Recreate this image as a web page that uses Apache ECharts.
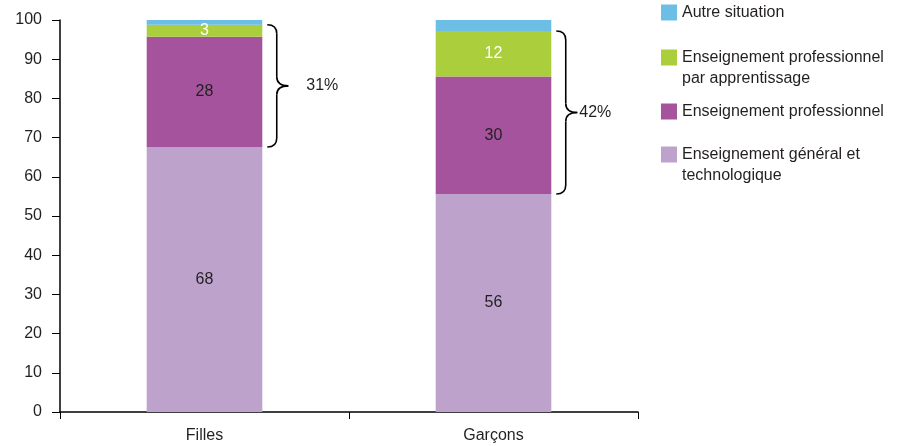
<!DOCTYPE html>
<html><head><meta charset="utf-8">
<script src="https://cdn.jsdelivr.net/npm/echarts/dist/echarts.min.js"></script>
<style>html,body{margin:0;padding:0;background:#fff}#c{width:906px;height:446px}</style>
</head><body><div id="c"></div>
<script>
// ---- data ----
const categories = ['Filles', 'Garçons'];
const seriesNames = [
  'Enseignement général et technologique',
  'Enseignement professionnel',
  'Enseignement professionnel par apprentissage',
  'Autre situation'
];
const legendTexts = [
  'Enseignement général et\ntechnologique',
  'Enseignement professionnel',
  'Enseignement professionnel\npar apprentissage',
  'Autre situation'
];
const generalValues = [67.6, 55.6];
const proValues = [28.1, 30.0];
const apprValues = [3.1, 11.6];
const autreValues = [1.2, 2.8];
const bracketLabels = ['31%', '42%'];
const yTickLabels = ['0','10','20','30','40','50','60','70','80','90','100'];

// ---- styles ----
const FONT = '"Liberation Sans", Arial, sans-serif';
const TXT = '#231f20';
const colors = ['#bda3cc', '#a6539e', '#aace3c', '#6cbee4'];
const labelColors = [TXT, TXT, '#ffffff', null];
const valueSets = [generalValues, proValues, apprValues, autreValues];

const chart = echarts.init(document.getElementById('c'), null, {renderer: 'canvas'});

const series = seriesNames.map((n, i) => ({
  name: n,
  type: 'bar',
  stack: 'total',
  barWidth: '40%',
  data: valueSets[i],
  itemStyle: {color: colors[i]},
  emphasis: {disabled: true},
  label: {
    show: labelColors[i] !== null,
    position: 'inside',
    color: labelColors[i] || TXT,
    fontFamily: FONT,
    fontSize: 16,
    formatter: p => String(Math.round(p.value))
  }
}));

// legend layout: [seriesIndex, top]
const legendLayout = [[3, 2], [2, 26], [1, 101], [0, 123]];
const legends = legendLayout.map(([si, top]) => ({
  show: true,
  orient: 'vertical',
  left: 661,
  top: top,
  padding: 0,
  itemWidth: 16,
  itemHeight: 16,
  icon: 'rect',
  selectedMode: false,
  data: [seriesNames[si]],
  formatter: name => {
    const t = legendTexts[seriesNames.indexOf(name)];
    return t.indexOf('\n') >= 0 ? '\n' + t : t;
  },
  textStyle: {color: TXT, fontFamily: FONT, fontSize: 16, lineHeight: 21}
}));

chart.setOption({
  animation: false,
  backgroundColor: '#fff',
  grid: {left: 60, right: 268, top: 20, bottom: 34, containLabel: false, outerBoundsMode: 'none'},
  legend: legends,
  xAxis: {
    type: 'category',
    data: categories,
    boundaryGap: true,
    axisLine: {show: true, lineStyle: {color: '#000', width: 1.5}},
    axisTick: {show: true, length: 7, interval: 0, lineStyle: {color: '#000', width: 1}},
    axisLabel: {color: TXT, fontFamily: FONT, fontSize: 16, margin: 16},
    splitLine: {show: false}
  },
  yAxis: {
    type: 'value',
    min: 0, max: 100, interval: 10,
    axisLine: {show: true, lineStyle: {color: '#000', width: 1.5}},
    axisTick: {show: true, length: 8, lineStyle: {color: '#000', width: 1}},
    axisLabel: {color: TXT, fontFamily: FONT, fontSize: 16, margin: 18,
      formatter: v => yTickLabels[Math.round(v / 10)]},
    splitLine: {show: false}
  },
  series: series
});

// ---- brackets computed from the chart's own scales ----
const textOffsets = [18, 2];
const graphics = [];
const c0 = chart.convertToPixel({xAxisIndex: 0}, categories[0]);
const c1 = chart.convertToPixel({xAxisIndex: 0}, categories[1]);
const band = Math.abs(c1 - c0);
const stroke = {stroke: '#000', lineWidth: 1.6, fill: null};
categories.forEach((cat, i) => {
  const cx = chart.convertToPixel({xAxisIndex: 0}, cat);
  const right = cx + band * 0.2;
  const yb = chart.convertToPixel({yAxisIndex: 0}, generalValues[i]);
  const yt = chart.convertToPixel({yAxisIndex: 0}, generalValues[i] + proValues[i] + apprValues[i]);
  const ym = (yt + yb) / 2;
  const x0 = right + 5, w = 21, xm = x0 + w * 0.45, xt = x0 + w, r = 9;
  const curves = [
    {x1: x0, y1: yt, cpx1: xm, cpy1: yt, x2: xm, y2: yt + r},
    {x1: xm, y1: ym - r, cpx1: xm, cpy1: ym, x2: xt, y2: ym},
    {x1: xt, y1: ym, cpx1: xm, cpy1: ym, x2: xm, y2: ym + r},
    {x1: xm, y1: yb - r, cpx1: xm, cpy1: yb, x2: x0, y2: yb}
  ];
  curves.forEach(s => graphics.push({type: 'bezierCurve', silent: true, shape: s, style: Object.assign({}, stroke)}));
  graphics.push({type: 'line', silent: true, shape: {x1: xm, y1: yt + r, x2: xm, y2: ym - r}, style: Object.assign({}, stroke)});
  graphics.push({type: 'line', silent: true, shape: {x1: xm, y1: ym + r, x2: xm, y2: yb - r}, style: Object.assign({}, stroke)});
  graphics.push({
    type: 'text', silent: true,
    x: xt + textOffsets[i], y: ym,
    style: {text: bracketLabels[i], fill: TXT, font: '16px ' + FONT, verticalAlign: 'middle'}
  });
});
chart.setOption({graphic: graphics});
</script>
</body></html>
